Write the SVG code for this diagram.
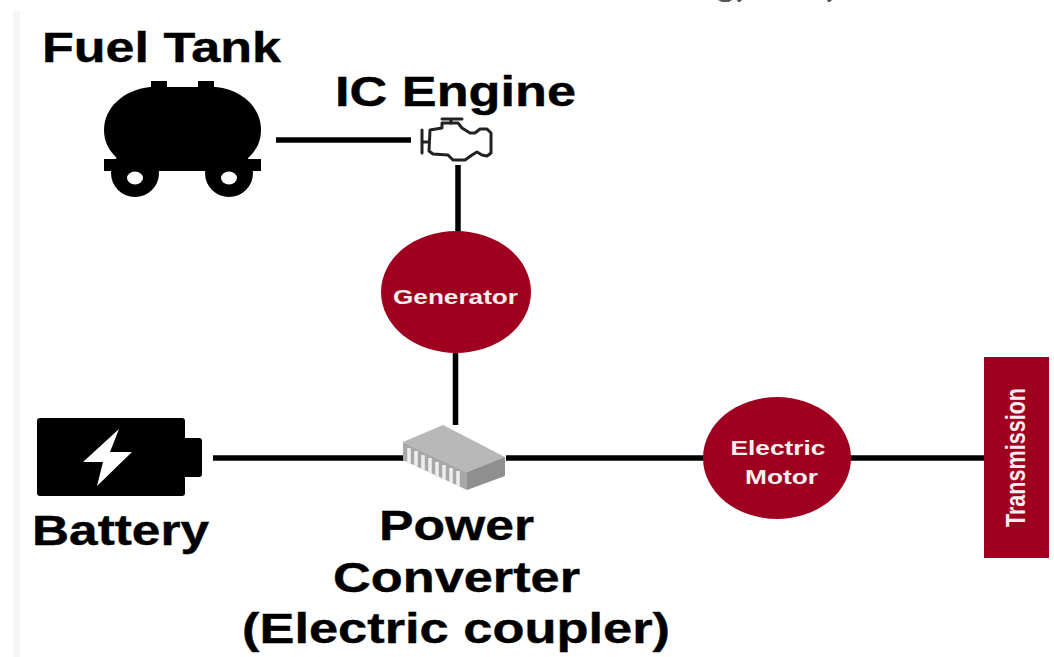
<svg xmlns="http://www.w3.org/2000/svg" width="1054" height="657" viewBox="0 0 1054 657">
<style>
.lbl{font-family:"Liberation Sans",Arial,sans-serif;font-weight:700;fill:#000;text-anchor:middle}
.big{font-size:42px;stroke:#000;stroke-width:.4px}
.in{font-family:"Liberation Sans",Arial,sans-serif;font-weight:700;fill:#f7eef0;text-anchor:middle;font-size:21px}
.red{fill:#a00020}
.wire{stroke:#000;stroke-width:5.5;fill:none}
.eng{fill:none;stroke:#222;stroke-width:3;stroke-linejoin:round;stroke-linecap:round}
</style>
<rect width="1054" height="657" fill="#fff"/>
<rect x="13" y="11" width="7" height="646" fill="#f5f5f5"/>
<path d="M718 0H732L729 2H722ZM737 0H742L740 2H738ZM827 0H832L830 2H828Z" fill="#555"/>
<g id="connectors">
<line class="wire" x1="276" y1="140" x2="411" y2="140"/>
<line class="wire" x1="458" y1="165" x2="458" y2="232"/>
<line class="wire" x1="455.500" y1="352" x2="455.500" y2="425"/>
<line class="wire" x1="213" y1="458" x2="404" y2="458"/>
<line class="wire" x1="506" y1="458" x2="704" y2="458"/>
<line class="wire" x1="850" y1="458" x2="985" y2="458"/>
</g>
<g id="fuel-tank">
<text class="lbl big" x="161.500" y="62" textLength="239" lengthAdjust="spacingAndGlyphs">Fuel Tank</text>
<rect x="151" y="81" width="16" height="10"/>
<rect x="198" y="81" width="16" height="10"/>
<path d="M150 87H216C243 90 261 108 261 130C261 142 256 151 247 159H118C109 151 104 142 104 130C104 108 123 90 150 87Z"/>
<rect x="104" y="159" width="157" height="12"/>
<circle cx="135" cy="173" r="24"/>
<circle cx="229" cy="173" r="24"/>
<rect x="159" y="171" width="46" height="6" fill="#fff"/>
<ellipse cx="135" cy="178" rx="8" ry="6.500" fill="#fff"/>
<ellipse cx="229" cy="178" rx="8" ry="6.500" fill="#fff"/>
</g>
<g id="ic-engine">
<text class="lbl big" x="455.500" y="106" textLength="241" lengthAdjust="spacingAndGlyphs">IC Engine</text>
<path class="eng" d="M422 130V153M422 142H429M430 130L442 128V123H458L462 128L470 133H475L480 129H487L491 133V153L487 156L482 155L477 152L472 155L465 160H453L448 155L433 154L429 151Z"/>
<path class="eng" d="M442 119H462M451 119V123"/>
</g>
<g id="generator">
<ellipse class="red" cx="456" cy="292" rx="75" ry="61"/>
<text class="in" x="455.500" y="304" textLength="125" lengthAdjust="spacingAndGlyphs">Generator</text>
</g>
<g id="battery">
<rect x="37" y="418" width="148" height="78" rx="3"/>
<rect x="180" y="438" width="22" height="39" rx="3"/>
<path d="M119 429L83 462H103L97 486L132 452H110Z" fill="#fff"/>
<text class="lbl big" x="120.500" y="545" textLength="177" lengthAdjust="spacingAndGlyphs">Battery</text>
</g>
<g id="power-converter">
<path d="M403 442L443 425L505 457L467 472Z" fill="#b8b8b8"/>
<path d="M403 442V460L467 490V472Z" fill="#a8a8a8"/>
<path d="M467 472L505 457V476L467 490Z" fill="#8f8f8f"/>
<path d="M409 448V463M416 451V466M423 455V470M430 458V473M437 462V477M444 465V480M451 468V483M458 471V486" stroke="#eee" stroke-width="3.500"/>
<text class="lbl big" x="456.500" y="540" textLength="155" lengthAdjust="spacingAndGlyphs">Power</text>
<text class="lbl big" x="456.500" y="592" textLength="247" lengthAdjust="spacingAndGlyphs">Converter</text>
<text class="lbl big" x="456" y="643" textLength="428" lengthAdjust="spacingAndGlyphs">(Electric coupler)</text>
</g>
<g id="electric-motor">
<ellipse class="red" cx="777" cy="458" rx="74" ry="61"/>
<text class="in" x="778" y="455" textLength="95" lengthAdjust="spacingAndGlyphs">Electric</text>
<text class="in" x="781.500" y="484" textLength="73" lengthAdjust="spacingAndGlyphs">Motor</text>
</g>
<g id="transmission">
<rect class="red" x="984" y="357" width="65" height="201"/>
<text class="in" style="font-size:28px" transform="translate(1025 457.500) rotate(-90)" textLength="139" lengthAdjust="spacingAndGlyphs">Transmission</text>
</g>
</svg>
